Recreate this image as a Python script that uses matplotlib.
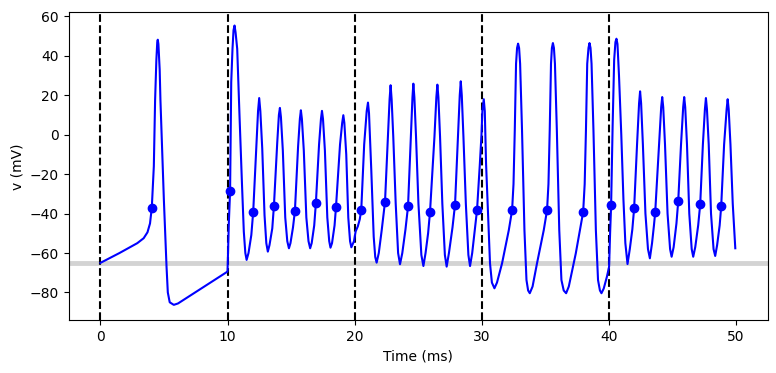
import matplotlib.pyplot as plt

# membrane potential trace (ms, mV)
t_ms = [0, 1.5, 2.9, 3.4, 3.7, 3.9, 4.04, 4.2, 4.3, 4.4, 4.47, 4.51, 4.56, 4.66, 4.72, 4.99, 5.2, 5.3, 5.45, 5.77, 6.1, 9.98,
        10.0, 10.1, 10.2, 10.29, 10.39, 10.47, 10.55, 10.63, 10.76, 10.94, 11.13, 11.28, 11.4, 11.5, 11.65, 11.87, 12.02,
        12.26, 12.4, 12.49, 12.58, 12.73, 12.91, 13.05, 13.17, 13.3, 13.52, 13.65, 13.91, 14.04, 14.12, 14.2, 14.35, 14.54,
        14.7, 14.83, 14.95, 15.15, 15.3, 15.55, 15.69, 15.77, 15.85, 16.0, 16.2, 16.37, 16.5, 16.62, 16.82, 16.95, 17.2,
        17.35, 17.43, 17.51, 17.66, 17.85, 18.0, 18.1, 18.22, 18.42, 18.53, 18.85, 19.02, 19.11, 19.19, 19.34, 19.5, 19.64,
        19.74, 19.95, 20.08, 20.25, 20.4, 20.52, 20.75, 20.95, 21.05, 21.13, 21.31, 21.5, 21.62, 21.73, 21.9, 22.13, 22.39,
        22.62, 22.75, 22.83, 22.91, 23.04, 23.23, 23.42, 23.57, 23.75, 24.0, 24.2, 24.42, 24.55, 24.62, 24.7, 24.83, 25.02,
        25.25, 25.41, 25.58, 25.78, 25.93, 26.28, 26.43, 26.51, 26.59, 26.72, 26.9, 27.1, 27.24, 27.42, 27.7, 27.9, 28.13,
        28.27, 28.35, 28.43, 28.56, 28.75, 28.95, 29.08, 29.25, 29.48, 29.63, 29.85, 29.98, 30.05, 30.16, 30.24, 30.34,
        30.55, 30.65, 30.8, 31.0, 31.2, 31.6, 32.13, 32.39, 32.5, 32.6, 32.7, 32.78, 32.86, 32.94, 33.02, 33.17, 33.36,
        33.52, 33.65, 33.78, 34.0, 34.35, 34.88, 35.14, 35.25, 35.35, 35.45, 35.52, 35.6, 35.68, 35.76, 35.91, 36.1, 36.27,
        36.45, 36.64, 36.85, 37.4, 37.98, 38.1, 38.2, 38.3, 38.4, 38.48, 38.56, 38.64, 38.79, 38.98, 39.15, 39.3, 39.42,
        39.6, 39.85, 40.02, 40.1, 40.18, 40.3, 40.42, 40.52, 40.6, 40.68, 40.8, 40.98, 41.15, 41.3, 41.47, 41.65, 41.85,
        41.99, 42.22, 42.38, 42.46, 42.54, 42.68, 42.88, 43.08, 43.23, 43.4, 43.55, 43.65, 43.95, 44.12, 44.2, 44.28, 44.42,
        44.62, 44.82, 44.94, 45.1, 45.32, 45.46, 45.68, 45.85, 45.93, 46.01, 46.15, 46.33, 46.52, 46.64, 46.8, 47.03, 47.19,
        47.4, 47.56, 47.64, 47.72, 47.86, 48.04, 48.24, 48.37, 48.52, 48.72, 48.84, 49.07, 49.27, 49.35, 49.43, 49.57,
        49.75, 49.95]
v_mV = [-65, -60, -55, -52.5, -49.5, -45, -37, -16, 17.5, 38, 47, 48.2, 46, 33, 17.5, -33, -67, -80, -85, -86.3, -85.6, -69.5,
        -69, -45, -28.6, 26.7, 43.6, 53, 55.4, 52, 43.6, 9.9, -24, -49.2, -60, -63.5, -60, -50.9, -39,
        -7, 12, 18.6, 12, -7, -40.8, -55, -59.3, -56, -47.5, -36, -4, 10, 13.6, 9, -8, -42,
        -54, -57.6, -55, -47, -38.7, -6, 8, 12.4, 8, -8, -42, -54, -57.6, -55, -46, -34.7, -5,
        8, 12.1, 8, -8, -42, -54, -57.3, -55, -46, -36.9, -5, 6, 9.9, 6, -10, -42, -54,
        -57.1, -54, -49, -46.5, -43, -38.2, -5, 12, 16.3, 11, -18, -51.7, -62, -64.9, -60, -48.4, -34,
        -1.1, 18, 25.1, 18, -1.1, -34.8, -60, -65.7, -60, -48, -36.4, -1, 19, 25.9, 19, -1, -35,
        -61, -66.6, -60, -50, -39.2, -1, 19, 25.4, 19, -1, -35, -61, -66.9, -60, -47, -35.4, -1,
        20, 27.1, 20, -1, -35, -61, -66.6, -60, -47, -38.2, -15, 0, 12, 18, 12, -14.6,
        -48.4, -65.2, -75, -77.9, -75, -65.2, -48.4, -38.2, -25, 2.3, 36, 44, 46.2, 44, 36, 2.3, -48.4,
        -73.7, -79, -80.4, -77, -65.2, -48.4, -38.2, -25, 2.3, 36, 44, 46.5, 44, 36, 2.3, -48.4, -73.7,
        -79, -80.4, -77, -60.2, -39.2, -25, 2.3, 36, 44, 46.5, 44, 36, 2.3, -48.4, -73.7, -79, -80.4,
        -78, -72, -67, -50, -35.9, 5, 38, 47, 48.7, 46, 30, 0, -33, -55, -65.6, -58, -48,
        -37.4, -5, 16, 22, 16, -5, -40, -58, -62.7, -55, -46, -39.2, -5, 14, 19.1, 14, -5,
        -40, -58, -61.9, -57, -45, -33.7, -5, 14, 19.1, 14, -5, -40, -58, -61.9, -57, -46, -35.2,
        -5, 13, 18.6, 13, -5, -40, -58, -61.5, -56, -46, -36.4, -5, 13, 18, 13, -5,
        -35, -57.6]

# detected spike points
spike_t = [4.04, 10.2, 12.02, 13.65, 15.3, 16.95, 18.53, 20.52, 22.39, 24.2, 25.93, 27.9, 29.63,
           32.39, 35.14, 37.98, 40.18, 41.99, 43.65, 45.46, 47.19, 48.84]
spike_v = [-37, -28.6, -39, -36, -38.7, -34.7, -36.9, -38.2, -34, -36.4, -39.2, -35.4, -38.2,
           -38.2, -38.2, -39.2, -35.9, -37.4, -39.2, -33.7, -35.2, -36.4]

stim_times = [0, 10, 20, 30, 40]
v_rest = -65

fig = plt.figure(figsize=(7.76, 3.73), dpi=100)
ax = fig.add_axes([0.0885, 0.142, 0.9008, 0.8245])

ax.axhline(v_rest, color='lightgray', linewidth=3.5, zorder=1)
for s in stim_times:
    ax.axvline(s, color='k', linestyle='--', linewidth=1.5, zorder=2)
ax.plot(t_ms, v_mV, color='blue', linewidth=1.5, zorder=3)
ax.plot(spike_t, spike_v, 'o', color='blue', markersize=6, zorder=4)

ax.set_xlim(-2.5, 52.5)
ax.set_ylim(-94, 62)
ax.set_xlabel("Time (ms)")
ax.set_ylabel("v (mV)")

plt.savefig("out.png")
